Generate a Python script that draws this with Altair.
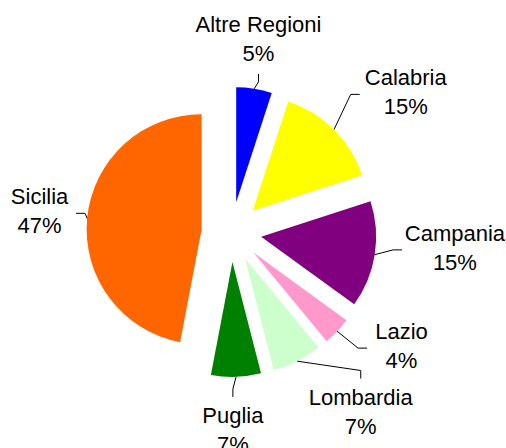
import altair as alt
import pandas as pd

# ---- data ----
categories = ["Altre Regioni", "Calabria", "Campania", "Lazio", "Lombardia", "Puglia", "Sicilia"]
shares = [5, 15, 15, 4, 7, 7, 47]

# ---- styles ----
colors = ["#0000FF", "#FFFF00", "#800080", "#FF99CC", "#CCFFCC", "#008000", "#FF6600"]

# ---- label layout (labels were dragged away from the slices in the source) ----
label_nudge_deg = [-1.0, 6.4, -4.8, -9.2, -8.6, 1.4, 0.6]
label_dist = [194, 223, 224, 205, 222, 199, 193]

CX, CY = 231.5, 232      # pie centre
EXPLODE = 30             # explosion distance
R = 115                  # slice radius
FS = 22                  # label font size
LH = 29                  # label line height

df = pd.DataFrame({
    "idx": list(range(len(categories))),
    "cat": categories,
    "value": shares,
    "nudge": label_nudge_deg,
    "ldist": label_dist,
})

base = (
    alt.Chart(df)
    .transform_window(cum="sum(value)", sort=[alt.SortField("idx")])
    .transform_joinaggregate(total="sum(value)")
    .transform_calculate(a0="2*PI*(datum.cum - datum.value)/datum.total")
    .transform_calculate(a1="2*PI*datum.cum/datum.total")
    .transform_calculate(mid="(datum.a0 + datum.a1)/2")
    .transform_calculate(cx=f"{CX} + {EXPLODE}*sin(datum.mid)")
    .transform_calculate(cy=f"{CY} - {EXPLODE}*cos(datum.mid)")
    .transform_calculate(ax=f"{CX} + {EXPLODE + R}*sin(datum.mid)")
    .transform_calculate(ay=f"{CY} - {EXPLODE + R}*cos(datum.mid)")
    .transform_calculate(la="datum.mid + datum.nudge*PI/180")
    .transform_calculate(label="datum.cat + '\\n' + datum.value + '%'")
    .transform_calculate(lx=f"{CX} + datum.ldist*sin(datum.la)")
    .transform_calculate(ly=f"{CY} - datum.ldist*cos(datum.la)")
    .transform_calculate(narrow="length(replace(datum.cat, regexp('[^iltfjr ]', 'g'), ''))")
    .transform_calculate(halfw=f"((length(datum.cat) - datum.narrow)*0.56 + datum.narrow*0.25)*{FS}/2")
    .transform_calculate(horiz="abs(sin(datum.la)) > 0.7")
    .transform_calculate(side="sin(datum.la) > 0 ? 1 : -1")
    .transform_calculate(vside="cos(datum.la) > 0 ? 1 : -1")
    .transform_calculate(ex="datum.horiz ? datum.lx - datum.side*(datum.halfw + 7) : datum.lx")
    .transform_calculate(ey="datum.horiz ? datum.ly + 1.5 : datum.ly + datum.vside*34")
    .transform_calculate(bx="datum.horiz ? datum.ex - datum.side*9 : datum.ex")
    .transform_calculate(by="datum.horiz ? datum.ey : datum.ey + datum.vside*8")
)

arcs = base.mark_arc(radius=R).encode(
    x=alt.X("cx:Q", scale=None, axis=None),
    y=alt.Y("cy:Q", scale=None, axis=None),
    theta=alt.Theta("a0:Q", scale=None),
    theta2="a1:Q",
    color=alt.Color("cat:N", scale=alt.Scale(domain=categories, range=colors), legend=None),
)

lead1 = base.mark_rule(color="black", strokeWidth=1).encode(
    x=alt.X("ax:Q", scale=None, axis=None),
    y=alt.Y("ay:Q", scale=None, axis=None),
    x2="bx:Q",
    y2="by:Q",
)

lead2 = base.mark_rule(color="black", strokeWidth=1).encode(
    x=alt.X("bx:Q", scale=None, axis=None),
    y=alt.Y("by:Q", scale=None, axis=None),
    x2="ex:Q",
    y2="ey:Q",
)

labels = base.mark_text(
    font="Liberation Sans", fontSize=FS, lineHeight=LH, lineBreak="\n",
    align="center", baseline="middle", color="black", dy=-LH / 2,
).encode(
    x=alt.X("lx:Q", scale=None, axis=None),
    y=alt.Y("ly:Q", scale=None, axis=None),
    text="label:N",
)

chart = (
    alt.layer(arcs, lead1, lead2, labels)
    .properties(width=506, height=448, padding=0,
                autosize=alt.AutoSizeParams(type="none"))
    .configure_view(stroke=None)
)

chart.save("out.html", embed_options={"renderer": "svg", "actions": False})
